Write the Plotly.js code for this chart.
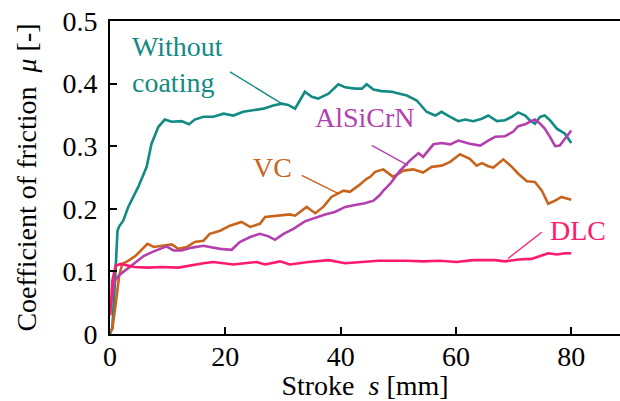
<!DOCTYPE html>
<html>
<head>
<meta charset="utf-8">
<script src="https://cdn.plot.ly/plotly-3.0.1.min.js"></script>
<style>html,body{margin:0;padding:0;background:#fff;}#chart{width:620px;height:401px;}</style>
</head>
<body>
<div id="chart"></div>
<script>
// Without coating
const wcX = [0, 0.4, 0.9, 1.3, 1.6, 2.3, 3.17, 4.9, 6.36, 7.2, 8.4, 9.5, 10.7, 12.4, 13.7, 14.7, 16.2, 17.9, 19.7, 21.4, 23.1, 24.9, 26.6, 28.3, 29.8, 30.9, 32.1, 33.8, 35, 36.1, 37.9, 39.6, 40.8, 42.5, 43.7, 44.5, 45.7, 47.1, 48.9, 49.7, 51.5, 53.2, 54.9, 56.4, 57.5, 59, 60.4, 61.6, 63, 64.5, 65.6, 67.1, 68.5, 69.7, 70.8, 72, 72.8, 73.7, 74.6, 75.4, 76.3, 77.5, 78.9, 80];
const wcY = [0, 0.01, 0.09, 0.165, 0.172, 0.181, 0.203, 0.235, 0.267, 0.304, 0.331, 0.3425, 0.339, 0.34, 0.335, 0.3425, 0.347, 0.347, 0.352, 0.349, 0.355, 0.357, 0.36, 0.365, 0.368, 0.366, 0.36, 0.387, 0.379, 0.376, 0.384, 0.399, 0.394, 0.392, 0.392, 0.399, 0.3905, 0.388, 0.387, 0.385, 0.381, 0.373, 0.355, 0.349, 0.355, 0.347, 0.34, 0.3425, 0.34, 0.344, 0.349, 0.34, 0.3415, 0.347, 0.354, 0.349, 0.3415, 0.336, 0.347, 0.349, 0.3415, 0.328, 0.32, 0.305];
// AlSiCrN
const alX = [0, 0.2, 0.7, 1.56, 2.43, 3.6, 4.7, 5.9, 7.6, 8.4, 9.8, 11, 12.4, 14.2, 16.2, 17.3, 19.1, 21.1, 22.5, 24.3, 26, 27.5, 28.6, 30.1, 31.8, 33.8, 35.6, 37.3, 39, 40.8, 42.5, 44.2, 45.7, 46.8, 47.5, 48.6, 50.3, 52, 53.5, 54.3, 56.1, 57.5, 59, 60.4, 62.4, 64.2, 65.6, 66.8, 68.5, 69.9, 70.8, 72, 72.8, 73.7, 74.6, 75.4, 76.3, 77.2, 78, 78.9, 80];
const alY = [0.03, 0.05, 0.083, 0.094, 0.1, 0.108, 0.117, 0.125, 0.132, 0.135, 0.14, 0.1335, 0.1335, 0.138, 0.141, 0.139, 0.136, 0.1345, 0.147, 0.155, 0.16, 0.156, 0.1505, 0.16, 0.168, 0.18, 0.186, 0.191, 0.195, 0.203, 0.206, 0.209, 0.213, 0.222, 0.23, 0.24, 0.261, 0.277, 0.289, 0.283, 0.303, 0.305, 0.303, 0.309, 0.304, 0.301, 0.309, 0.315, 0.316, 0.323, 0.332, 0.335, 0.339, 0.3425, 0.336, 0.328, 0.315, 0.3, 0.301, 0.312, 0.325];
// VC
const vcX = [0, 0.4, 0.99, 1.56, 2.1, 3, 4.45, 5.6, 6.5, 7.6, 9.5, 10.7, 11.85, 13.3, 14.7, 16.2, 17.3, 19.1, 20.8, 22.8, 24.3, 26, 26.9, 28.9, 31.2, 32.1, 34.1, 35.6, 37, 38.4, 40.5, 41.6, 43.1, 44.5, 45.1, 46, 47.4, 49.1, 50.9, 52.6, 54.3, 55.8, 57.5, 59, 60.7, 62.4, 63.6, 64.5, 65.6, 66.5, 68.2, 69.7, 70.8, 72.3, 73.7, 74.9, 76, 77.2, 78.3, 80];
const vcY = [0.003, 0.008, 0.048, 0.091, 0.112, 0.116, 0.125, 0.136, 0.144, 0.139, 0.141, 0.143, 0.136, 0.139, 0.147, 0.149, 0.16, 0.165, 0.173, 0.179, 0.171, 0.176, 0.187, 0.189, 0.191, 0.189, 0.203, 0.193, 0.203, 0.219, 0.229, 0.227, 0.237, 0.248, 0.251, 0.259, 0.263, 0.251, 0.261, 0.263, 0.258, 0.267, 0.269, 0.275, 0.287, 0.28, 0.269, 0.273, 0.268, 0.266, 0.279, 0.267, 0.256, 0.244, 0.243, 0.229, 0.208, 0.213, 0.219, 0.2145];
// DLC
const dlcX = [0, 0.2, 0.4, 0.99, 1.85, 3, 4.2, 6.6, 9, 11.85, 13.6, 16.2, 17.9, 21.4, 25.4, 26.9, 29.5, 31.2, 34.4, 37.9, 40.8, 43.7, 46.5, 51.5, 54.3, 57.2, 60.1, 63, 66.8, 68.5, 70.8, 73.1, 74.9, 76, 77.5, 78.9, 80];
const dlcY = [0.03, 0.05, 0.085, 0.109, 0.112, 0.109, 0.107, 0.106, 0.107, 0.106, 0.109, 0.113, 0.115, 0.111, 0.115, 0.111, 0.116, 0.111, 0.115, 0.118, 0.113, 0.115, 0.117, 0.117, 0.116, 0.117, 0.115, 0.118, 0.118, 0.116, 0.119, 0.12, 0.125, 0.129, 0.127, 0.129, 0.129];

const xTicks = [0, 20, 40, 60, 80];
const yTicks = [0, 0.1, 0.2, 0.3, 0.4, 0.5];
const xTickText = ['0', '20', '40', '60', '80'];
const yTickText = ['0', '0.1', '0.2', '0.3', '0.4', '0.5'];

const C_WC = '#138a84', C_AL = '#b43fae', C_VC = '#c8641c', C_DLC = '#ff1a6e';

function fnt(c) { return {family: 'Liberation Serif', size: 28, color: c}; }

function tr(x, y, c) {
  return {x: x, y: y, type: 'scatter', mode: 'lines', line: {color: c, width: 2.6}, showlegend: false, hoverinfo: 'skip'};
}
const data = [tr(wcX, wcY, C_WC), tr(vcX, vcY, C_VC), tr(alX, alY, C_AL), tr(dlcX, dlcY, C_DLC)];

function seg(x0, y0, x1, y1, c) {
  return {type: 'line', xref: 'x', yref: 'y', x0: x0, y0: y0, x1: x1, y1: y1, line: {color: c, width: 1.3}};
}
function lab(text, x, y, c, anchor) {
  return {text: text, x: x, y: y, xref: 'x', yref: 'y', showarrow: false, xanchor: anchor || 'center', yanchor: 'middle', align: 'left', font: fnt(c)};
}

const layout = {
  width: 620, height: 401,
  margin: {l: 110, r: 0, t: 21, b: 67},
  xaxis: {
    range: [0, 88.45], tickvals: xTicks, ticktext: xTickText,
    ticks: 'inside', ticklen: 7, tickwidth: 2, tickcolor: '#000',
    showline: true, linewidth: 2, linecolor: '#000', mirror: true,
    showgrid: false, zeroline: false, ticklabelstandoff: -4,
    tickfont: fnt('#000'),
    title: {text: 'Stroke\u00A0 <i>s</i> [mm]', font: fnt('#000'), standoff: 4}
  },
  yaxis: {
    range: [0, 0.5], tickvals: yTicks, ticktext: yTickText,
    ticks: 'inside', ticklen: 7, tickwidth: 2, tickcolor: '#000',
    showline: true, linewidth: 2, linecolor: '#000',
    showgrid: false, zeroline: false, ticklabelstandoff: 5,
    tickfont: fnt('#000'),
    title: {text: 'Coefficient of friction\u00A0 <i>μ</i> [-]', font: fnt('#000'), standoff: 18}
  },
  shapes: [
    seg(20.81, 0.4187, 29.78, 0.368, C_WC),
    seg(45.39, 0.3014, 51.68, 0.2694, C_AL),
    seg(33.25, 0.2534, 39.54, 0.2246, C_VC),
    seg(74.87, 0.1627, 69.03, 0.1206, C_DLC)
  ],
  annotations: [
    lab('Without<br>coating', 3.47, 0.431, C_WC, 'left'),
    lab('AlSiCrN', 44.14, 0.346, C_AL),
    lab('VC', 28.1, 0.2654, C_VC),
    lab('DLC', 81.25, 0.1654, C_DLC)
  ]
};

Plotly.newPlot('chart', data, layout, {staticPlot: true});
</script>
</body>
</html>
